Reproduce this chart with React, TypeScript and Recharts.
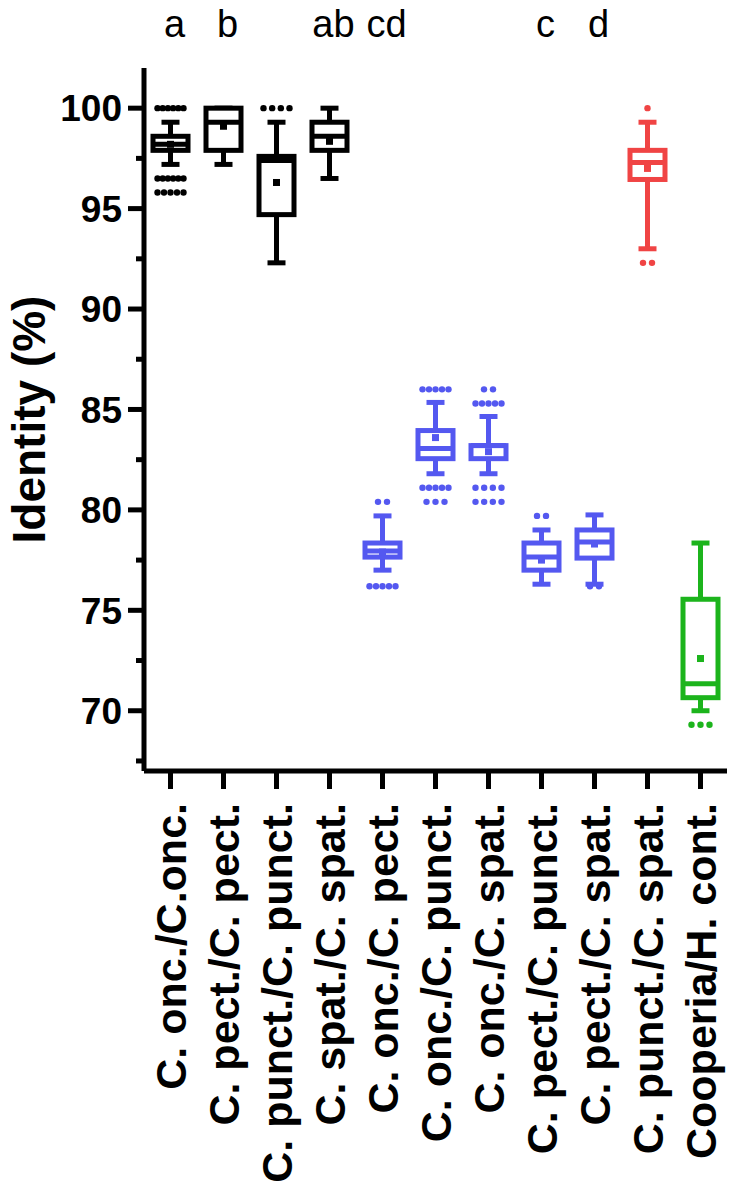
import React from 'react';
import { ComposedChart, Bar, Scatter, XAxis, YAxis } from 'recharts';

const groups = [
  'C. onc./C.onc.',
  'C. pect./C. pect.',
  'C. punct./C. punct.',
  'C. spat./C. spat.',
  'C. onc./C. pect.',
  'C. onc./C. punct.',
  'C. onc./C. spat.',
  'C. pect./C. punct.',
  'C. pect./C. spat.',
  'C. punct./C. spat.',
  'Cooperia/H. cont.',
];
const letters = ['a', 'b', '', 'ab', 'cd', '', '', 'c', 'd', '', ''];

const whiskerMin = [97.2, 97.2, 92.3, 96.5, 77.0, 81.8, 81.8, 76.3, 76.3, 93.0, 70.0];
const q1 = [97.9, 97.9, 94.7, 97.9, 77.65, 82.55, 82.55, 77.0, 77.6, 96.45, 70.65];
const median = [98.2, 99.3, 97.4, 98.6, 77.95, 83.05, 83.2, 77.65, 78.4, 97.3, 71.35];
const q3 = [98.6, 100, 97.6, 99.3, 78.35, 83.95, 83.2, 78.35, 79.0, 97.9, 75.55];
const whiskerMax = [99.3, 100, 99.3, 100, 79.7, 85.35, 84.65, 79.0, 79.75, 99.3, 78.35];
const mean = [98.2, 99.1, 96.3, 98.35, 77.9, 83.6, 82.9, 77.5, 78.3, 97.0, 72.6];

// outlier rows: n = number of points sitting at that value
const outliers = [
  { group: 'C. onc./C.onc.', value: 100, n: 6 },
  { group: 'C. onc./C.onc.', value: 96.5, n: 6 },
  { group: 'C. onc./C.onc.', value: 95.8, n: 5 },
  { group: 'C. punct./C. punct.', value: 100, n: 4 },
  { group: 'C. onc./C. pect.', value: 80.4, n: 2 },
  { group: 'C. onc./C. pect.', value: 76.2, n: 5 },
  { group: 'C. onc./C. punct.', value: 86.0, n: 5 },
  { group: 'C. onc./C. punct.', value: 81.1, n: 5 },
  { group: 'C. onc./C. punct.', value: 80.4, n: 3 },
  { group: 'C. onc./C. spat.', value: 86.0, n: 2 },
  { group: 'C. onc./C. spat.', value: 85.3, n: 5 },
  { group: 'C. onc./C. spat.', value: 81.1, n: 4 },
  { group: 'C. onc./C. spat.', value: 80.4, n: 4 },
  { group: 'C. pect./C. punct.', value: 79.7, n: 2 },
  { group: 'C. pect./C. spat.', value: 76.2, n: 2 },
  { group: 'C. punct./C. spat.', value: 100, n: 1 },
  { group: 'C. punct./C. spat.', value: 92.3, n: 2 },
  { group: 'Cooperia/H. cont.', value: 69.3, n: 3 },
];

const yTicks = [67.5, 70, 72.5, 75, 77.5, 80, 82.5, 85, 87.5, 90, 92.5, 95, 97.5, 100];

const BLACK = '#000000';
const BLUE = '#5458f0';
const RED = '#f04444';
const GREEN = '#1cb41c';
const groupColors = [BLACK, BLACK, BLACK, BLACK, BLUE, BLUE, BLUE, BLUE, BLUE, RED, GREEN];
const FONT = '"Liberation Sans", Arial, Helvetica, sans-serif';
const LW = 5;
const BOX_W = 35;
const CAP_W = 18;

const rows = groups.map((name, i) => ({
  name,
  pos: i,
  whisker: [whiskerMin[i], whiskerMax[i]],
  box: [q1[i], q3[i]],
  median: median[i],
  mean: mean[i],
}));
const outlierRows = outliers.map((o) => ({ ...o, pos: groups.indexOf(o.group) }));

const colorOf = (pos: number) => groupColors[pos] ?? BLACK;

const Whisker = (p: any) => {
  const c = colorOf(p.payload.pos);
  const cx = p.x + p.width / 2;
  const top = p.y;
  const bot = p.y + p.height;
  return (
    <g stroke={c} strokeWidth={LW}>
      <line x1={cx} x2={cx} y1={top} y2={bot} />
      <line x1={cx - CAP_W / 2} x2={cx + CAP_W / 2} y1={top} y2={top} />
      <line x1={cx - CAP_W / 2} x2={cx + CAP_W / 2} y1={bot} y2={bot} />
    </g>
  );
};

const Box = (p: any) => {
  const c = colorOf(p.payload.pos);
  const cx = p.x + p.width / 2;
  return (
    <rect x={cx - BOX_W / 2} y={p.y} width={BOX_W} height={Math.max(p.height, 0.5)} fill="#fff" stroke={c} strokeWidth={LW} />
  );
};

const MedianLine = (p: any) => (
  <line x1={p.cx - BOX_W / 2} x2={p.cx + BOX_W / 2} y1={p.cy} y2={p.cy} stroke={colorOf(p.payload.pos)} strokeWidth={LW} />
);

const MeanMark = (p: any) => (
  <rect x={p.cx - 3.5} y={p.cy - 3.5} width={7} height={7} fill={colorOf(p.payload.pos)} />
);

const OutlierDots = (p: any) => {
  const n = p.payload.n;
  const step = n > 1 ? Math.min(9, 26 / (n - 1)) : 0;
  const start = p.cx - (step * (n - 1)) / 2;
  return (
    <g fill={colorOf(p.payload.pos)}>
      {Array.from({ length: n }, (_, k) => (
        <circle key={k} cx={start + k * step} cy={p.cy} r={3.2} />
      ))}
    </g>
  );
};

const YTick = (p: any) => {
  const v = p.payload.value;
  const major = v % 5 === 0;
  return (
    <g>
      <line x1={p.x} x2={p.x - (major ? 16 : 8)} y1={p.y} y2={p.y} stroke="#000" strokeWidth={LW} />
      {major && (
        <text x={p.x - 22} y={p.y} dy="0.36em" textAnchor="end" fontFamily={FONT} fontWeight="bold" fontSize={37} fill="#000">
          {v}
        </text>
      )}
    </g>
  );
};

const XTick = (p: any) => {
  const ay = p.y + 14;
  return (
    <text x={p.x} y={ay} dy={15} transform={`rotate(-90, ${p.x}, ${ay})`} textAnchor="end" fontFamily={FONT} fontWeight="bold" fontSize={43} fill="#000">
      {p.payload.value}
    </text>
  );
};

const LetterTick = (p: any) => {
  const l = letters[groups.indexOf(p.payload.value)];
  if (!l) return null;
  return (
    <text x={p.x + 4} y={p.y - 31} textAnchor="middle" fontFamily={FONT} fontSize={38} fill="#000">
      {l}
    </text>
  );
};

const YTitle = (p: any) => {
  const vb = p.viewBox || { y: 68, height: 703 };
  const cy = vb.y + vb.height / 2;
  return (
    <text x={45} y={cy} transform={`rotate(-90, 45, ${cy})`} textAnchor="middle" fontFamily={FONT} fontWeight="bold" fontSize={46} fill="#000">
      Identity (%)
    </text>
  );
};

export default function App() {
  return (
    <div style={{ position: 'absolute', left: 0, top: 0, background: '#fff' }}>
      <ComposedChart width={733} height={1199} data={rows} margin={{ top: 0, right: 6, bottom: 0, left: 0 }}>
        <XAxis
          dataKey="name"
          interval={0}
          height={428}
          tickSize={18}
          tickMargin={0}
          tick={<XTick />}
          axisLine={{ stroke: '#000', strokeWidth: LW }}
          tickLine={{ stroke: '#000', strokeWidth: LW }}
        />
        <XAxis
          xAxisId="top"
          orientation="top"
          dataKey="name"
          interval={0}
          height={68}
          tickSize={0}
          tickMargin={0}
          axisLine={false}
          tickLine={false}
          tick={<LetterTick />}
        />
        <XAxis xAxisId="num" type="number" dataKey="pos" domain={[-0.5, 10.5]} hide />
        <YAxis
          type="number"
          domain={[67, 102]}
          ticks={yTicks}
          interval={0}
          width={144}
          tickSize={0}
          tickMargin={0}
          tickLine={false}
          axisLine={{ stroke: '#000', strokeWidth: LW }}
          tick={<YTick />}
          label={(props: any) => <YTitle {...props} />}
        />
        <Bar dataKey="whisker" barSize={BOX_W} shape={<Whisker />} isAnimationActive={false} />
        <Bar dataKey="box" xAxisId="top" barSize={BOX_W} shape={<Box />} isAnimationActive={false} />
        <Scatter dataKey="median" xAxisId="num" shape={<MedianLine />} isAnimationActive={false} />
        <Scatter dataKey="mean" xAxisId="num" shape={<MeanMark />} isAnimationActive={false} />
        <Scatter data={outlierRows} dataKey="value" xAxisId="num" shape={<OutlierDots />} isAnimationActive={false} />
      </ComposedChart>
    </div>
  );
}
